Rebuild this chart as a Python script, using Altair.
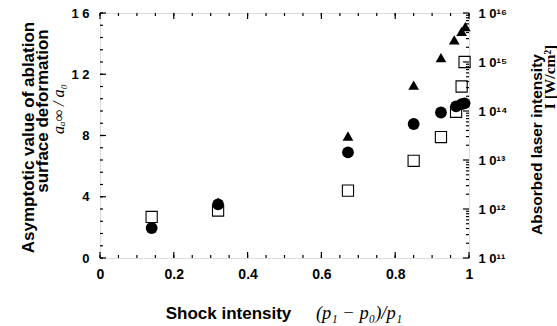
import altair as alt
import pandas as pd

# ---- data ----
shock = [0.14, 0.32, 0.672, 0.85, 0.924, 0.965, 0.98, 0.988]
deform_circle = [1.96, 3.5, 6.9, 8.75, 9.5, 9.9, 10.05, 10.1]
deform_square = [2.68, 3.1, 4.4, 6.35, 7.9, 9.55, 11.2, 12.8]
shock_tri = [0.32, 0.672, 0.85, 0.924, 0.96, 0.98, 0.99]
intensity = [1.38e12, 3.09e13, 3.39e14, 1.23e15, 2.82e15, 4.22e15, 5.25e15]

x_major = [0, 0.2, 0.4, 0.6, 0.8, 1.0]
x_minor = [round(i * 0.05, 2) for i in range(21)]
y_major = [0, 4, 8, 12, 16]
y_minor = [round(i * 0.8, 1) for i in range(21)]
log_major = [1e11, 1e12, 1e13, 1e14, 1e15, 1e16]
log_minor = [k * 10.0 ** e for e in range(11, 16) for k in range(2, 10)]

W, H = 369, 245
FONT = "Liberation Sans"
SERIF = "Liberation Serif"

xscale = alt.Scale(domain=[0, 1], nice=False, zero=False)
yscale = alt.Scale(domain=[0, 16], nice=False)
lscale = alt.Scale(type="log", domain=[1e11, 1e16], nice=False)

df_pts = pd.DataFrame({"x": shock, "circle": deform_circle, "square": deform_square})
df_tri = pd.DataFrame({"x": shock_tri, "I": intensity})

x_axis = alt.Axis(
    orient="bottom", values=x_major,
    labelExpr="datum.value == 0 ? '0' : datum.value == 1 ? '1' : format(datum.value, '.1f')",
    ticks=False, domain=False, grid=False, labelFont=FONT, labelFontWeight="bold", labelFontSize=14,
    labelPadding=9, labelColor="black", labelFlush=False,
    title="Shock intensity", titleFont=FONT, titleFontWeight="bold", titleFontSize=17,
    titleX=128, titleY=55, titleBaseline="middle", titleAnchor="middle", titleAlign="center", titleColor="black",
)
y_axis = alt.Axis(
    orient="left", values=y_major,
    labelExpr="datum.value >= 10 ? '1 ' + (datum.value - 10) : '' + datum.value",
    ticks=False, domain=False, grid=False, labelFont=FONT, labelFontWeight="bold", labelFontSize=13,
    labelPadding=11, labelColor="black", labelFlush=False,
    title="Asymptotic value of ablation", titleFont=FONT, titleFontWeight="bold",
    titleFontSize=17, titleAngle=270, titleX=-72, titleY=124, titleAlign="center", titleBaseline="middle",
    titleColor="black",
)
r_axis = alt.Axis(
    orient="right", values=log_major,
    labelExpr="'1 0' + (round(log(datum.value)/LN10) == 11 ? '¹¹' : round(log(datum.value)/LN10) == 12 ? '¹²' : round(log(datum.value)/LN10) == 13 ? '¹³' : round(log(datum.value)/LN10) == 14 ? '¹⁴' : round(log(datum.value)/LN10) == 15 ? '¹⁵' : '¹⁶')",
    ticks=False, domain=False, grid=False, labelFont=FONT, labelFontWeight="bold", labelFontSize=13,
    labelPadding=9, labelColor="black", labelFlush=False,
    title="Absorbed laser intensity", titleFont=FONT, titleFontWeight="bold", titleFontSize=15.5,
    titleAngle=270, titleX=67, titleY=131, titleAlign="center", titleBaseline="middle", titleColor="black",
)

base_pts = alt.Chart(df_pts)
squares = base_pts.mark_point(shape="square", size=125, filled=False, color="black", strokeWidth=1.1, opacity=1).encode(
    x=alt.X("x:Q", scale=xscale, axis=x_axis),
    y=alt.Y("square:Q", scale=yscale, axis=y_axis),
)
circles = base_pts.mark_point(shape="circle", size=140, filled=True, color="black", opacity=1).encode(
    x=alt.X("x:Q", scale=xscale, axis=x_axis),
    y=alt.Y("circle:Q", scale=yscale, axis=y_axis),
)
triangles = alt.Chart(df_tri).mark_point(shape="triangle-up", size=115, filled=True, color="black", opacity=1).encode(
    x=alt.X("x:Q", scale=xscale, axis=x_axis),
    y=alt.Y("I:Q", scale=lscale, axis=r_axis),
)


def xticks(vals, length):
    d = pd.DataFrame({"v": vals})
    bottom = alt.Chart(d).mark_rule(color="black", strokeWidth=1.2).encode(
        x=alt.X("v:Q", scale=xscale, axis=x_axis), y=alt.value(H), y2=alt.value(H - length))
    top = alt.Chart(d).mark_rule(color="black", strokeWidth=1.2).encode(
        x=alt.X("v:Q", scale=xscale, axis=x_axis), y=alt.value(0), y2=alt.value(length))
    return [bottom, top]


def lticks(vals, length):
    d = pd.DataFrame({"v": vals})
    return alt.Chart(d).mark_rule(color="black", strokeWidth=1.2).encode(
        y=alt.Y("v:Q", scale=yscale, axis=y_axis), x=alt.value(0), x2=alt.value(length))


def rticks(vals, length):
    d = pd.DataFrame({"v": vals})
    return alt.Chart(d).mark_rule(color="black", strokeWidth=1.2).encode(
        y=alt.Y("v:Q", scale=lscale, axis=r_axis), x=alt.value(W), x2=alt.value(W - length))


line2_df = pd.DataFrame({"t": ["surface deformation"]})
left_line2 = alt.Chart(line2_df).mark_text(font=FONT, fontWeight="bold", fontSize=17, angle=270, color="black").encode(
    text="t:N", x=alt.value(-57), y=alt.value(98))
label_df = pd.DataFrame({"t": ["aₐ∞ / a₀"]})
left_sub = alt.Chart(label_df).mark_text(font=SERIF, fontStyle="italic", fontSize=16, angle=270, color="black").encode(
    text="t:N", x=alt.value(-41), y=alt.value(96))
formula_df = pd.DataFrame({"t": ["(p₁ − p₀)/p₁"]})
formula = alt.Chart(formula_df).mark_text(font=SERIF, fontStyle="italic", fontSize=18.5, color="black").encode(
    text="t:N", x=alt.value(259), y=alt.value(300))
unit_df = pd.DataFrame({"t": ["I [W/cm²]"]})
unit = alt.Chart(unit_df).mark_text(font=SERIF, fontWeight="bold", fontSize=15.5, angle=270, color="black").encode(
    text="t:N", x=alt.value(450), y=alt.value(64))

left_group = alt.layer(
    *xticks(x_minor, 3), *xticks(x_major, 6), lticks(y_minor, 3), lticks(y_major, 6),
    squares, circles, left_line2, left_sub, formula,
)
right_group = alt.layer(rticks(log_minor, 3), rticks(log_major, 6), triangles, unit)

chart = alt.layer(right_group, left_group).resolve_scale(y="independent").properties(
    width=W, height=H,
    autosize=alt.AutoSizeParams(type="none"),
    padding={"left": 100, "top": 13, "right": 88, "bottom": 68},
).configure_view(stroke="black", strokeWidth=2).configure(background="white")

chart.save("out.html", embed_options={"renderer": "svg", "actions": False})
